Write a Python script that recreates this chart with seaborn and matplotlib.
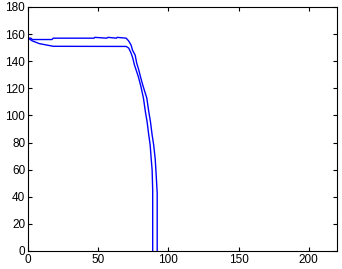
import matplotlib
matplotlib.use("Agg")
import matplotlib.pyplot as plt
import seaborn as sns
import pandas as pd

sns.set_style("white")
plt.rcParams['font.family'] = ['Liberation Sans', 'DejaVu Sans']

outer_x = [0, 2, 3, 17, 18, 47, 47.5, 56, 57, 63, 63.5, 69.9, 71.7, 73.4, 74.4, 76.3, 77.4, 78.9,
           80.1, 81.9, 84.6, 86.0, 87.2, 88.4, 89.5, 90.6, 91.2, 92.0, 92.0]
outer_y = [157, 157, 156, 156, 157, 157, 157.6, 157, 157.6, 157, 157.6, 157, 154.9, 151.9, 148.2, 144.5, 138.6, 133.5,
           128.5, 121.8, 112.8, 102.7, 95.4, 85.5, 78.2, 67.8, 57.5, 42.8, 0]
inner_x = [0, 3, 8, 13, 18, 69.9, 71.7, 73.4, 74.6, 75.8, 77.0, 78.6, 80.3, 82.2, 83.6, 84.8,
           86.0, 87.0, 87.7, 88.4, 88.8, 88.8]
inner_y = [157, 155, 153, 152, 151, 150.9, 149.7, 146.0, 142.3, 137.2, 133.5, 128.5, 121.8, 112.8, 102.7, 95.4,
           85.5, 78.2, 68.4, 59.7, 45, 0]
x_ticks = [0, 50, 100, 150, 200]
y_ticks = [0, 20, 40, 60, 80, 100, 120, 140, 160, 180]

fig = plt.figure(figsize=(3.42, 2.69), dpi=100)
ax = fig.add_axes([0.082, 0.067, 0.903, 0.907])

for xs, ys in [(outer_x, outer_y), (inner_x, inner_y)]:
    df = pd.DataFrame({"x": xs, "y": ys})
    sns.lineplot(data=df, x="x", y="y", sort=False, estimator=None,
                 color=(0, 0, 1), linewidth=1.0, ax=ax)

ax.set_xlim(0, 220)
ax.set_ylim(0, 180)
ax.set_xticks(x_ticks)
ax.set_yticks(y_ticks)
ax.set_xlabel("")
ax.set_ylabel("")
for s in ax.spines.values():
    s.set_color("black")
    s.set_linewidth(0.8)
ax.tick_params(direction="in", length=3, width=0.8, labelsize=8.5,
               top=True, right=True, bottom=True, left=True, colors="black", pad=2)
fig.savefig("out.png", dpi=100)
